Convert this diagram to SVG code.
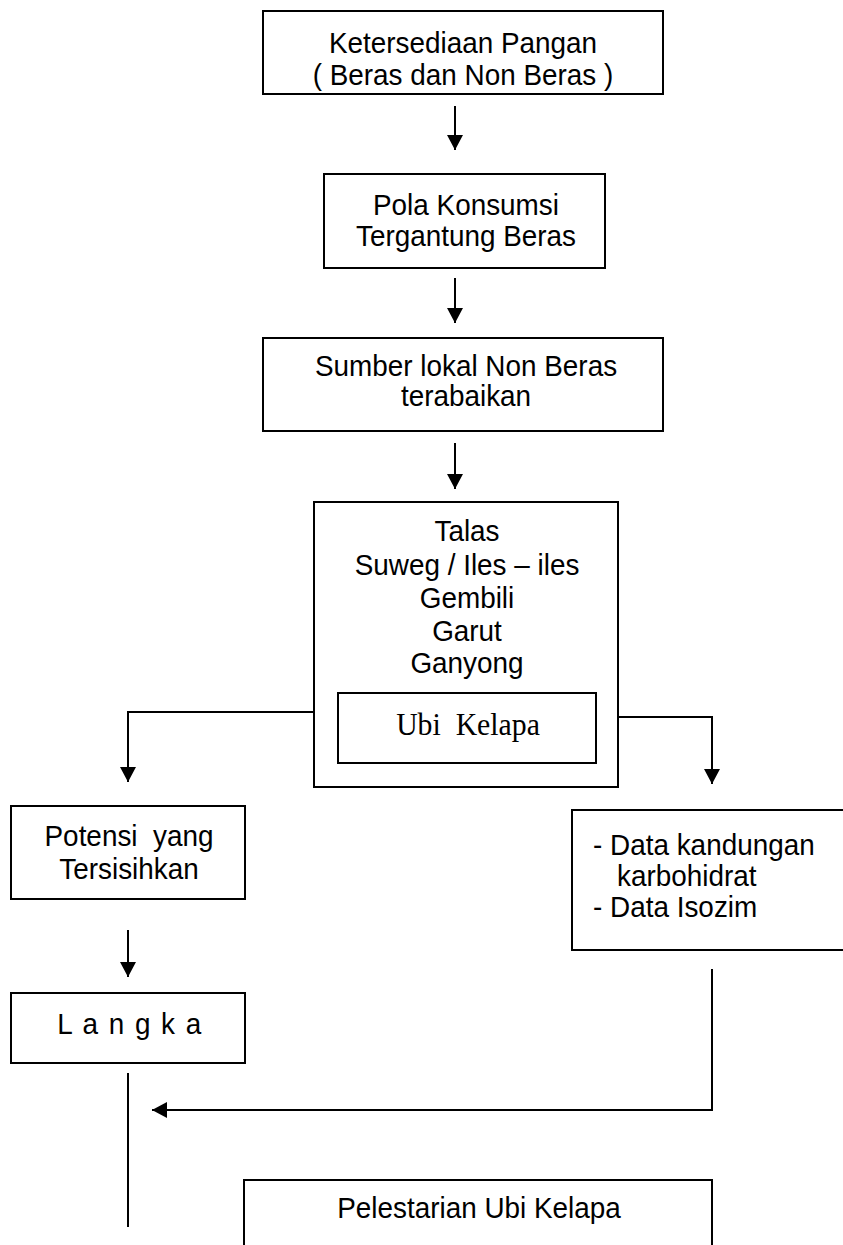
<svg xmlns="http://www.w3.org/2000/svg" width="843" height="1245" viewBox="0 0 843 1245">
<style>
.box{fill:#fff;stroke:#000;stroke-width:2}
.t{font-family:"Liberation Sans",Arial,sans-serif;font-size:30px;fill:#000;text-anchor:middle;white-space:pre}
.ts{font-family:"Liberation Serif","Times New Roman",serif;font-size:32px;fill:#000;text-anchor:middle;white-space:pre}
.l{font-family:"Liberation Sans",Arial,sans-serif;font-size:30px;fill:#000;white-space:pre}
.c{fill:none;stroke:#000;stroke-width:2}
</style>
<defs>
<marker id="ah" markerUnits="userSpaceOnUse" markerWidth="16" markerHeight="16" viewBox="0 0 16 16" refX="15" refY="8" orient="auto">
<path d="M0,0 L15,8 L0,16 Z" fill="#000"/>
</marker>
</defs>
<rect width="843" height="1245" fill="#fff"/>
<g id="connectors">
<line class="c" x1="455" y1="106" x2="455" y2="150" marker-end="url(#ah)"/>
<line class="c" x1="455" y1="278" x2="455" y2="323" marker-end="url(#ah)"/>
<line class="c" x1="455" y1="443" x2="455" y2="489" marker-end="url(#ah)"/>
<polyline class="c" points="338,712 128,712 128,782" marker-end="url(#ah)"/>
<polyline class="c" points="596,717 712,717 712,784" marker-end="url(#ah)"/>
<line class="c" x1="128" y1="930" x2="128" y2="977" marker-end="url(#ah)"/>
<line class="c" x1="128" y1="1073" x2="128" y2="1227"/>
<polyline class="c" points="712,969 712,1110 152,1110" marker-end="url(#ah)"/>
</g>
<g id="n1">
<rect class="box" x="263" y="11" width="400" height="83"/>
<text class="t" transform="translate(463 53) scale(0.93 1)">Ketersediaan Pangan</text>
<text class="t" transform="translate(463 85) scale(0.93 1)">( Beras dan Non Beras )</text>
</g>
<g id="n2">
<rect class="box" x="324" y="174" width="281" height="94"/>
<text class="t" transform="translate(466 215) scale(0.93 1)">Pola Konsumsi</text>
<text class="t" transform="translate(466 246) scale(0.93 1)">Tergantung Beras</text>
</g>
<g id="n3">
<rect class="box" x="263" y="338" width="400" height="93"/>
<text class="t" transform="translate(466 376) scale(0.93 1)">Sumber lokal Non Beras</text>
<text class="t" transform="translate(466 406) scale(0.93 1)">terabaikan</text>
</g>
<g id="n4">
<rect class="box" x="314" y="502" width="304" height="285"/>
<text class="t" transform="translate(467 541) scale(0.93 1)">Talas</text>
<text class="t" transform="translate(467 575) scale(0.93 1)">Suweg / Iles – iles</text>
<text class="t" transform="translate(467 608) scale(0.93 1)">Gembili</text>
<text class="t" transform="translate(467 641) scale(0.93 1)">Garut</text>
<text class="t" transform="translate(467 673) scale(0.93 1)">Ganyong</text>
</g>
<g id="n5">
<rect class="box" x="338" y="693" width="258" height="70"/>
<text class="ts" transform="translate(468 735) scale(0.93 1)">Ubi  Kelapa</text>
</g>
<g id="n6">
<rect class="box" x="11" y="806" width="234" height="93"/>
<text class="t" transform="translate(129 846) scale(0.93 1)">Potensi  yang</text>
<text class="t" transform="translate(129 879) scale(0.93 1)">Tersisihkan</text>
</g>
<g id="n7">
<rect class="box" x="572" y="810" width="280" height="140"/>
<text class="l" transform="translate(593 855) scale(0.93 1)">- Data kandungan</text>
<text class="l" transform="translate(617 886) scale(0.93 1)">karbohidrat</text>
<text class="l" transform="translate(593 917) scale(0.93 1)">- Data Isozim</text>
</g>
<g id="n8">
<rect class="box" x="11" y="993" width="234" height="70"/>
<text class="t" transform="translate(130 1034) scale(0.93 1)" letter-spacing="1.6">L a n g k a</text>
</g>
<g id="n9">
<rect class="box" x="244" y="1180" width="468" height="80"/>
<text class="t" transform="translate(479 1218) scale(0.93 1)">Pelestarian Ubi Kelapa</text>
</g>
</svg>
